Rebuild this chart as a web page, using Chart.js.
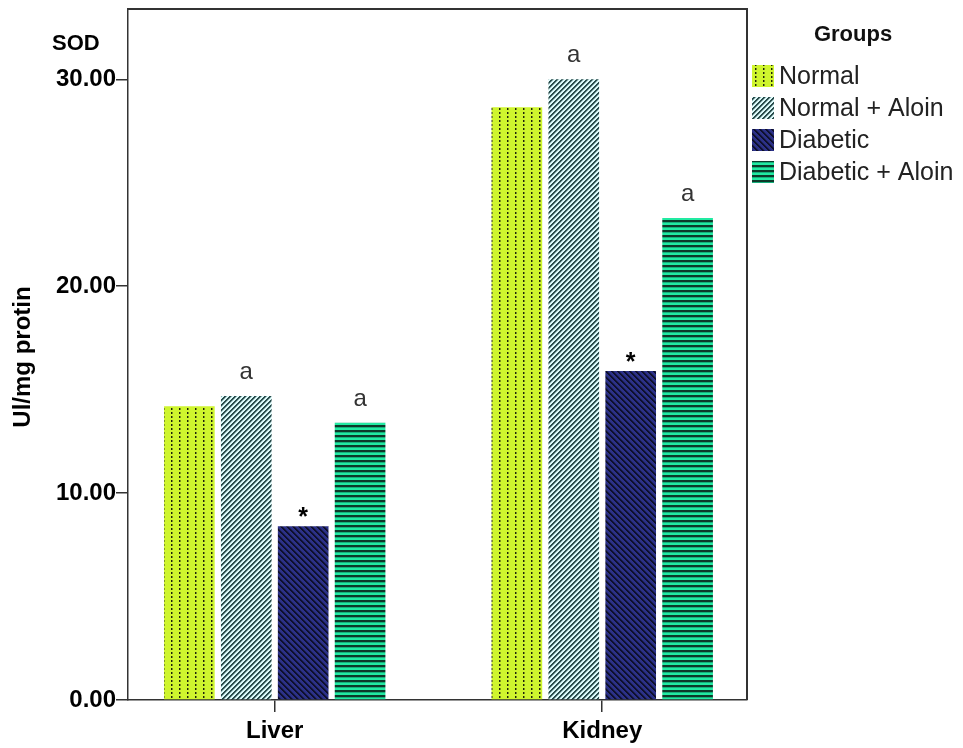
<!DOCTYPE html>
<html>
<head>
<meta charset="utf-8">
<script src="https://cdn.jsdelivr.net/npm/chart.js@4.4.1/dist/chart.umd.min.js"></script>
<style>
  html, body { margin: 0; padding: 0; background: #ffffff; }
  #wrap { width: 963px; height: 748px; }
</style>
</head>
<body>
<div id="wrap"><canvas id="c" width="963" height="748"></canvas></div>
<script>
// ---- data ----
const categories = ["Liver", "Kidney"];
const seriesNames = ["Normal", "Normal + Aloin", "Diabetic", "Diabetic + Aloin"];
const normalValues = [14.2, 28.65];
const normalAloinValues = [14.7, 30.0];
const diabeticValues = [8.4, 15.9];
const diabeticAloinValues = [13.4, 23.3];
const normalMarks = ["", ""];
const normalAloinMarks = ["a", "a"];
const diabeticMarks = ["*", "*"];
const diabeticAloinMarks = ["a", "a"];
const yTickValues = [0, 10, 20, 30];
const yAxisTitle = "Ul/mg protin";
const yTopLabel = "SOD";
const legendTitle = "Groups";

// ---- patterns ----
function tile(w, h, fn) {
  const cv = document.createElement('canvas');
  cv.width = w; cv.height = h;
  const cx = cv.getContext('2d');
  const img = cx.createImageData(w, h);
  for (let y = 0; y < h; y++) for (let x = 0; x < w; x++) {
    const c = fn(x, y);
    const i = (y * w + x) * 4;
    img.data[i] = c[0]; img.data[i+1] = c[1]; img.data[i+2] = c[2]; img.data[i+3] = 255;
  }
  cx.putImageData(img, 0, 0);
  return cx.createPattern(cv, 'repeat');
}
function hex(h) { return [parseInt(h.substr(1,2),16), parseInt(h.substr(3,2),16), parseInt(h.substr(5,2),16)]; }
const ctxMain = document.getElementById('c').getContext('2d');
const patNormal = tile(8, 4, (x, y) => {
  if (x === 3 && y < 2) return hex('#1e240a');
  if (x === 4 && y < 2) return hex('#7d9420');
  return hex('#cff52e');
});
const patNormalAloin = tile(5, 5, (x, y) => {
  const k = (x + y) % 5;
  return k < 2 ? hex('#2a4c4c') : (k === 2 ? hex('#8fb0b0') : hex('#dcfafa'));
});
const patDiabetic = tile(6, 6, (x, y) => {
  const k = (((x - y) % 6) + 6) % 6;
  return k < 2 ? hex('#0e102c') : (k === 2 ? hex('#1e2260') : hex('#2c3188'));
});
const patDiabeticAloin = tile(5, 5, (x, y) => (y < 2 ? hex('#0c3a2a') : (y === 2 ? hex('#16b07c') : hex('#22eaa2'))));

const seriesValues = [normalValues, normalAloinValues, diabeticValues, diabeticAloinValues];
const seriesMarks = [normalMarks, normalAloinMarks, diabeticMarks, diabeticAloinMarks];
const seriesPatterns = [patNormal, patNormalAloin, patDiabetic, patDiabeticAloin];

const datasets = seriesNames.map((name, s) => ({
  label: name,
  data: categories.map((c, i) => ({ x: i, y: seriesValues[s][i] })),
  backgroundColor: seriesPatterns[s],
  borderWidth: 0,
  categoryPercentage: 0.695,
  barPercentage: 0.89
}));

const FONT = '"Liberation Sans", Arial, sans-serif';

const decor = {
  id: 'decor',
  afterDatasetsDraw(chart) {
    const ctx = chart.ctx;
    const a = chart.chartArea;
    ctx.save();
    // frame
    ctx.strokeStyle = '#333';
    ctx.lineWidth = 2;
    ctx.beginPath();
    ctx.moveTo(a.left, a.top); ctx.lineTo(a.right, a.top); ctx.lineTo(a.right, a.bottom);
    ctx.stroke();
    // marks above bars
    chart.data.datasets.forEach((ds, d) => {
      const meta = chart.getDatasetMeta(d);
      meta.data.forEach((el, i) => {
        const m = seriesMarks[d][i];
        if (!m) return;
        ctx.textAlign = 'center';
        ctx.textBaseline = 'alphabetic';
        if (m === '*') {
          ctx.font = 'bold 25px ' + FONT;
          ctx.fillStyle = '#000';
          ctx.fillText(m, el.x, el.y - 1);
        } else {
          ctx.font = '24px ' + FONT;
          ctx.fillStyle = '#333';
          ctx.fillText(m, el.x, el.y - 17);
        }
      });
    });
    // axis titles
    ctx.fillStyle = '#000';
    ctx.font = 'bold 22px ' + FONT;
    ctx.textAlign = 'left';
    ctx.textBaseline = 'middle';
    ctx.fillText(yTopLabel, 52, 44);
    ctx.save();
    ctx.translate(23, 357);
    ctx.rotate(-Math.PI / 2);
    ctx.textAlign = 'center';
    ctx.font = 'bold 24px ' + FONT;
    ctx.fillText(yAxisTitle, 0, 0);
    ctx.restore();
    // legend
    ctx.font = 'bold 22px ' + FONT;
    ctx.textAlign = 'center';
    ctx.fillStyle = '#111';
    ctx.fillText(legendTitle, 853, 35);
    ctx.font = '25px ' + FONT;
    ctx.textAlign = 'left';
    chart.data.datasets.forEach((ds, d) => {
      const cy = 76 + d * 32;
      ctx.fillStyle = ds.backgroundColor;
      ctx.fillRect(752, cy - 11, 22, 22);
      ctx.fillStyle = '#222';
      ctx.fillText(ds.label, 779, cy + 1);
    });
    ctx.restore();
  }
};

new Chart(ctxMain, {
  type: 'bar',
  data: { datasets },
  options: {
    responsive: false,
    devicePixelRatio: 1,
    animation: false,
    layout: { padding: { left: 0, top: 9, right: 216, bottom: 0 } },
    plugins: { legend: { display: false }, tooltip: { enabled: false } },
    scales: {
      x: {
        type: 'linear',
        min: -0.448,
        max: 1.442,
        offset: false,
        afterBuildTicks(scale) { scale.ticks = categories.map((c, i) => ({ value: i })); },
        afterFit(scale) { scale.height = 48; scale.paddingLeft = 0; scale.paddingRight = 0; },
        ticks: {
          callback: (v) => categories[v],
          color: '#000',
          font: { family: FONT, size: 24, weight: 'bold' },
          padding: 5,
          maxRotation: 0,
          autoSkip: false
        },
        grid: { offset: false, drawOnChartArea: false, drawTicks: true, tickLength: 12, color: '#333', lineWidth: 1.5 },
        border: { display: true, color: '#333', width: 1.5 }
      },
      y: {
        min: 0,
        max: 33.4,
        afterBuildTicks(scale) { scale.ticks = yTickValues.map(v => ({ value: v })); },
        afterFit(scale) { scale.width = 128; scale.paddingTop = 0; scale.paddingBottom = 0; },
        ticks: {
          callback: (v) => v.toFixed(2),
          color: '#000',
          font: { family: FONT, size: 24, weight: 'bold' },
          padding: 0
        },
        grid: { drawOnChartArea: false, drawTicks: true, tickLength: 12, color: '#333', lineWidth: 1.5 },
        border: { display: true, color: '#333', width: 1.5 }
      }
    }
  },
  plugins: [decor]
});
</script>
</body>
</html>
